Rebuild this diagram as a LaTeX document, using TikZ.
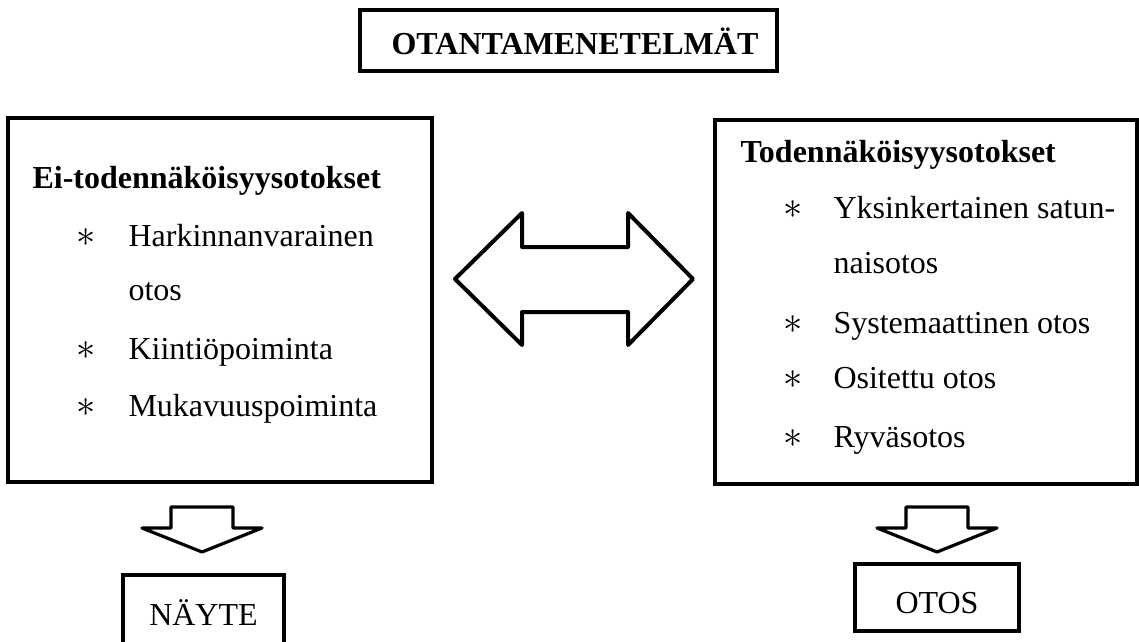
\documentclass[tikz,border=0pt]{standalone}
\usepackage{fontspec}
\setmainfont{Liberation Serif}

\begin{document}
\begin{tikzpicture}[x=0.375pt,y=-0.375pt,
    every node/.style={inner sep=0pt,font=\fontsize{12}{14}\selectfont},
    frame/.style={draw,line width=1.5pt},
    head/.style={anchor=base west,font=\fontsize{12}{14}\selectfont\bfseries},
    entry/.style={anchor=base west},
    mark star/.style={anchor=base,font=\fontsize{15}{15}\selectfont},
    blockarrow/.style={draw,line width=1.5pt,line join=round},
    downarrow/.style={draw,line width=1.2pt,line join=round}]
  \useasboundingbox (0,0) rectangle (1139,642);

  % title
  \draw[frame] (360,10) rectangle (777,71);
  \node[head] (title) at (391,55) {OTANTAMENETELMÄT};

  % left box
  \draw[frame] (8,118) rectangle (432,482);
  \node[head] (nonprob) at (32,188) {Ei-todennäköisyysotokset};
  \node[mark star] (s1) at (86,247) {$\ast$};
  \node[entry] (harkinta) at (128,247) {Harkinnanvarainen};
  \node[entry] (harkinta2) at (128,300) {otos};
  \node[mark star] (s2) at (86,359) {$\ast$};
  \node[entry] (kiintio) at (128,359) {Kiintiöpoiminta};
  \node[mark star] (s3) at (86,416) {$\ast$};
  \node[entry] (mukavuus) at (128,416) {Mukavuuspoiminta};

  % right box
  \draw[frame] (715,120) rectangle (1137,484);
  \node[head] (prob) at (740,163) {Todennäköisyysotokset};
  \node[mark star] (t1) at (793,218) {$\ast$};
  \node[entry] (yksink) at (833,218) {Yksinkertainen satun-};
  \node[entry] (yksink2) at (833,273) {naisotos};
  \node[mark star] (t2) at (793,333) {$\ast$};
  \node[entry] (system) at (833,333) {Systemaattinen otos};
  \node[mark star] (t3) at (793,388) {$\ast$};
  \node[entry] (ositettu) at (833,388) {Ositettu otos};
  \node[mark star] (t4) at (793,447) {$\ast$};
  \node[entry] (ryvas) at (833,447) {Ryväsotos};

  % double arrow between the boxes
  \draw[blockarrow] (455,279) -- (522,213) -- (522,247) -- (628,247) -- (628,213)
    -- (693,279) -- (628,345) -- (628,312) -- (522,312) -- (522,345) -- cycle;

  % down arrows
  \draw[downarrow] (171,507) -- (233,507) -- (233,528) -- (262,528) -- (202,552)
    -- (142,528) -- (171,528) -- cycle;
  \draw[downarrow] (906,507) -- (968,507) -- (968,528) -- (997,528) -- (937,552)
    -- (877,528) -- (906,528) -- cycle;

  % results
  \draw[frame] (123,575) rectangle (284,644);
  \node[anchor=base] (nayte) at (203.5,625) {NÄYTE};
  \draw[frame] (855,564) rectangle (1019,631);
  \node[anchor=base] (otos) at (937,613) {OTOS};
\end{tikzpicture}
\end{document}
